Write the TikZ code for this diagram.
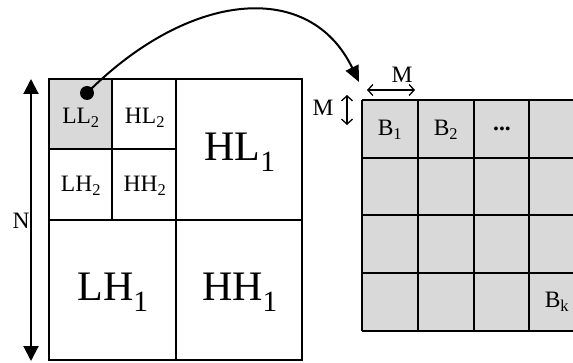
\documentclass[tikz,border=0pt]{standalone}
\usepackage{fontspec}
\setmainfont{Liberation Serif}
\usetikzlibrary{arrows.meta}
\begin{document}
\begin{tikzpicture}[x=1pt,y=-1pt,
  lbl/.style={font=\fontsize{23.5}{23.5}\selectfont, inner sep=0pt},
  biglbl/.style={font=\fontsize{42}{42}\selectfont, inner sep=0pt},
  frame/.style={line width=2pt},
  graycell/.style={fill=black!15},
  bigtip/.style={-{Triangle[length=16pt,width=14pt]}},
  dbl/.style={{Straight Barb[length=5pt,width=11pt]}-{Straight Barb[length=5pt,width=11pt]}, line width=1.3pt}
]
\useasboundingbox (0,0) rectangle (573,363);
% left decomposition
\fill[graycell] (49,79) rectangle (112,149);
\draw[frame] (49,79) rectangle (302,360);
\draw[frame] (176,79) -- (176,360);
\draw[frame] (49,220) -- (302,220);
\draw[frame] (112,79) -- (112,220);
\draw[frame] (49,149) -- (176,149);
\node[lbl] (ll2) at (81,118) {LL\textsubscript{2}};
\node[lbl] (hl2) at (145,118) {HL\textsubscript{2}};
\node[lbl] (lh2) at (81,186) {LH\textsubscript{2}};
\node[lbl] (hh2) at (145,186) {HH\textsubscript{2}};
\node[biglbl] (hl1) at (240,152) {HL\textsubscript{1}};
\node[biglbl] (lh1) at (113,292) {LH\textsubscript{1}};
\node[biglbl] (hh1) at (240,292) {HH\textsubscript{1}};
% N arrow
\coordinate (ntop) at (31,79);
\coordinate (nbot) at (31,361);
\draw[line width=2pt, {Triangle[length=15pt,width=15pt]}-{Triangle[length=15pt,width=15pt]}] (ntop) -- (nbot);
\node[lbl] (n) at (21,221) {N};
% right block grid
\begin{scope}
\clip (0,0) rectangle (573,363);
\fill[graycell] (362,100) rectangle (590,331);
\foreach \xx in {362,418,474,529} \draw[frame] (\xx,100) -- (\xx,331);
\foreach \yy in {100,158,215,273,331} \draw[frame] (362,\yy) -- (590,\yy);
\end{scope}
\node[lbl] (b1) at (390,130) {B\textsubscript{1}};
\node[lbl] (b2) at (446,130) {B\textsubscript{2}};
\node[lbl] (dots) at (502,129) {\textbf{...}};
\node[lbl] (bk) at (557,302) {B\textsubscript{k}};
% M arrows
\coordinate (mh1) at (367,90);
\coordinate (mh2) at (415,90);
\draw[dbl] (mh1) -- (mh2);
\node[lbl] (mtop) at (402,75) {M};
\coordinate (mv1) at (347,95);
\coordinate (mv2) at (347,125);
\draw[dbl] (mv1) -- (mv2);
\node[lbl] (mleft) at (323,108) {M};
% dot and curved arrow
\node[circle, fill=black, inner sep=0pt, minimum size=14pt] (dot) at (87,93) {};
\coordinate (tip) at (359,82);
\draw[line width=2pt, bigtip] (dot.center) .. controls (190,-10) and (310,-20) .. (tip);
\end{tikzpicture}
\end{document}
